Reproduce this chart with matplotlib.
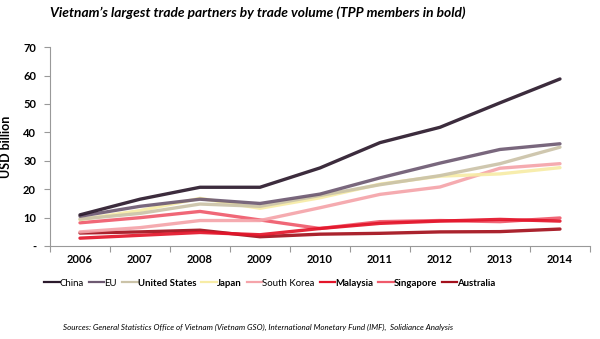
import matplotlib.pyplot as plt
from matplotlib.lines import Line2D

plt.rcParams["font.family"] = ["Lato", "DejaVu Sans"]

years = [2006, 2007, 2008, 2009, 2010, 2011, 2012, 2013, 2014]

china = [11.0, 16.5, 20.7, 20.7, 27.5, 36.4, 41.8, 50.4, 58.8]
eu = [10.5, 14.0, 16.5, 15.0, 18.3, 24.0, 29.2, 34.0, 36.0]
united_states = [9.5, 11.5, 14.8, 14.0, 17.8, 21.6, 24.8, 29.0, 34.8]
japan = [9.3, 12.5, 16.8, 13.3, 17.0, 21.8, 24.6, 25.4, 27.6]
south_korea = [5.0, 6.5, 9.0, 9.0, 13.5, 18.2, 20.8, 27.4, 29.0]
malaysia = [2.8, 3.8, 4.8, 4.0, 6.2, 8.0, 8.8, 9.4, 8.8]
singapore = [8.2, 10.0, 12.2, 9.2, 6.2, 8.6, 9.0, 8.6, 9.9]
australia = [4.6, 5.0, 5.6, 3.3, 4.2, 4.5, 5.0, 5.1, 6.0]

partners = ["China", "EU", "United States", "Japan", "South Korea",
            "Malaysia", "Singapore", "Australia"]
series = [china, eu, united_states, japan, south_korea,
          malaysia, singapore, australia]
tpp = ["United States", "Japan", "Malaysia", "Singapore", "Australia"]

colors = {
    "China":         "#2b1a2c",
    "EU":            "#6e5a72",
    "United States": "#cbc3a8",
    "Japan":         "#f7eca6",
    "South Korea":   "#f5a4aa",
    "Malaysia":      "#e3152a",
    "Singapore":     "#ef5a6b",
    "Australia":     "#a3101c",
}

fig = plt.figure(figsize=(6.0, 3.39), dpi=100)
ax = fig.add_axes([0.0833, 0.274, 0.9, 0.587])

x = list(range(len(years)))
# draw lower series first so the big ones sit on top
for name, vals in reversed(list(zip(partners, series))):
    ax.plot(x, vals, color=colors[name], lw=2.4, solid_capstyle="round",
            solid_joinstyle="round", alpha=0.92)

ax.set_xlim(-0.5, len(years) - 0.5)
ax.set_ylim(0, 70)
ax.set_xticks([i - 0.5 for i in range(len(years) + 1)], minor=False)
ax.set_xticklabels([])
ax.set_xticks(x, minor=True)
ax.set_xticklabels([str(y) for y in years], minor=True, fontsize=8, fontweight="bold")
ax.tick_params(axis="x", which="minor", length=0, pad=6)
ax.tick_params(axis="x", which="major", length=4, color="#999999")
ax.set_yticks(range(0, 71, 10))
ax.set_yticklabels(["-"] + [str(v) for v in range(10, 71, 10)], fontsize=8, fontweight="bold")
ax.tick_params(axis="y", length=4, color="#999999", pad=6)

for sp in ("top", "right"):
    ax.spines[sp].set_visible(False)
for sp in ("left", "bottom"):
    ax.spines[sp].set_color("#999999")
    ax.spines[sp].set_linewidth(0.8)

ax.set_ylabel("USD billion", fontsize=9, fontweight="bold", labelpad=8)

handles = [Line2D([], [], color=colors[n], lw=1.6) for n in partners]
leg = fig.legend(handles, partners, loc="center", bbox_to_anchor=(0.45, 0.165),
                 ncol=8, frameon=False, fontsize=6.9, handlelength=1.6,
                 handletextpad=0.0, columnspacing=0.55, borderpad=0.1)
for t in leg.get_texts():
    if t.get_text() in tpp:
        t.set_fontweight("bold")

fig.text(0.43, 0.962, "Vietnam\u2019s largest trade partners by trade volume (TPP members in bold)",
         ha="center", va="center", fontsize=9.9, fontweight="bold", style="italic")
fig.text(0.43, 0.035,
         "Sources: General Statistics Office of Vietnam (Vietnam GSO), International Monetary Fund (IMF),  Solidiance Analysis",
         ha="center", va="center", fontsize=5.8, style="italic")

fig.savefig("out.png", dpi=100, facecolor="white")
